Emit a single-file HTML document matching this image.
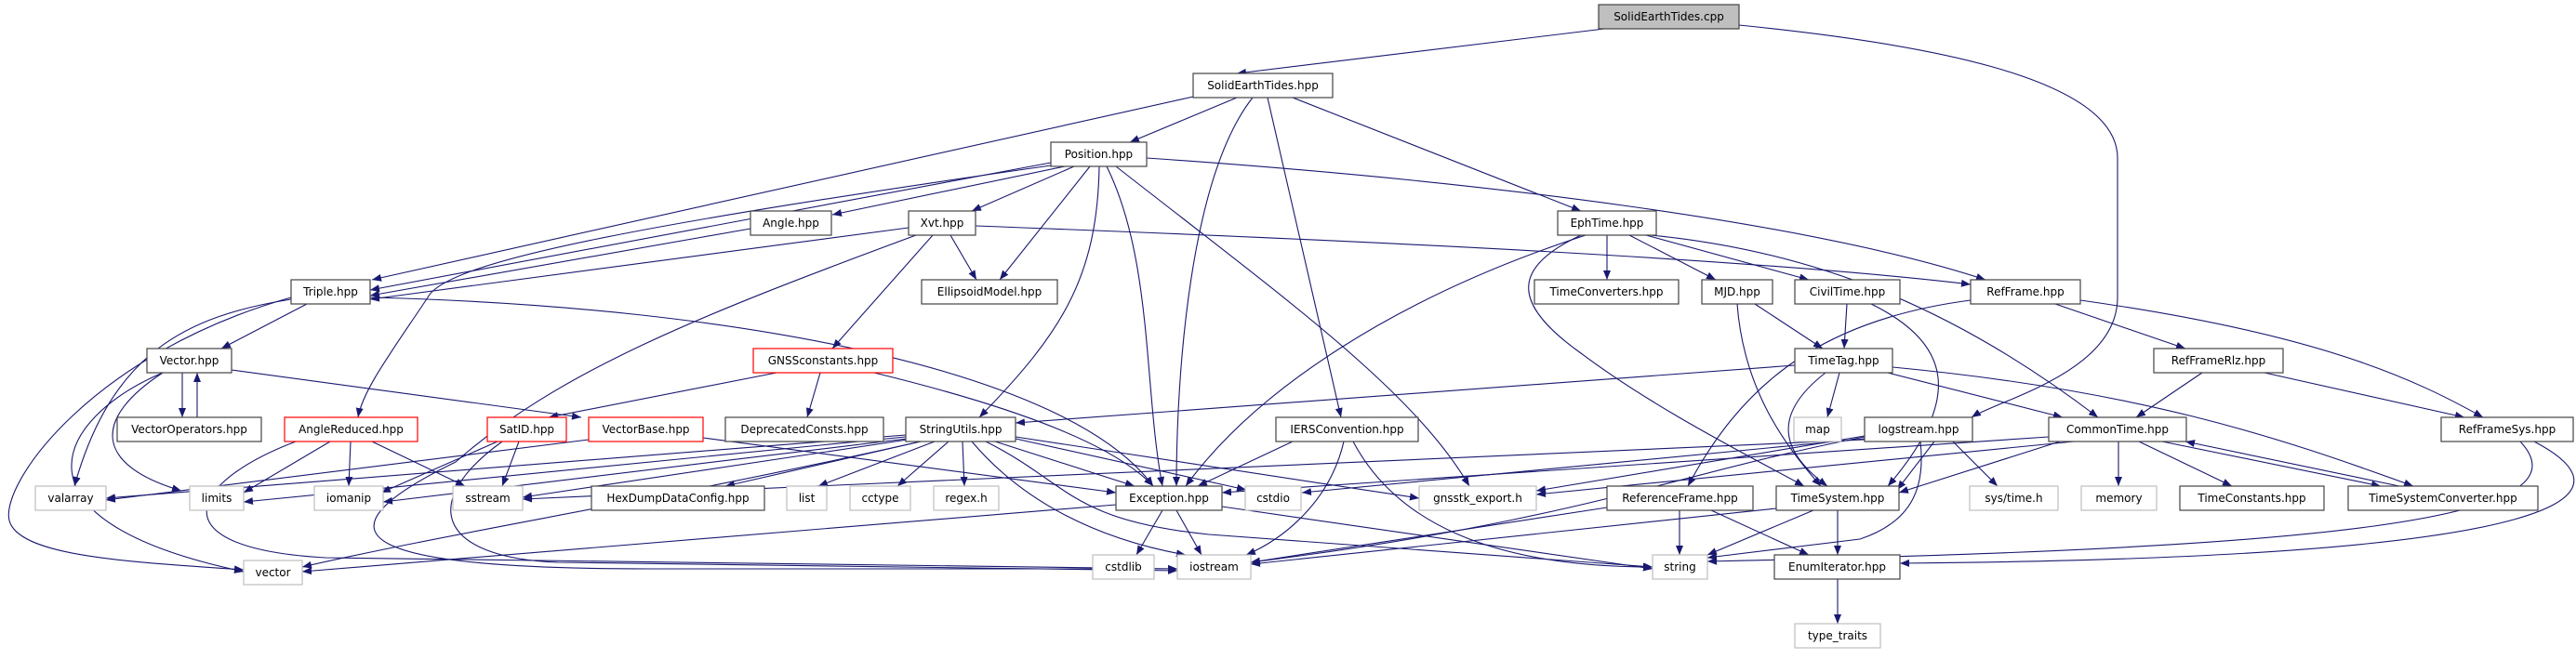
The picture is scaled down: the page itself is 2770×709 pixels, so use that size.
<!DOCTYPE html>
<html><head><meta charset="utf-8"><style>
html,body{margin:0;padding:0;background:#fff;}
svg{display:block;}
text{font-family:"DejaVu Sans","Liberation Sans",sans-serif;font-size:12px;fill:#000;}
.e{fill:none;stroke:#191970;stroke-width:1.1;marker-end:url(#a);}
.n{fill:#fff;stroke:#444;stroke-width:1.2;}
.g{fill:#fff;stroke:#bfbfbf;stroke-width:1.2;}
.r{fill:#fff;stroke:#f00;stroke-width:1.2;}
</style></head><body>
<svg width="2770" height="709" viewBox="0 0 2770 709" xmlns="http://www.w3.org/2000/svg">
<defs><marker id="a" markerUnits="userSpaceOnUse" markerWidth="11" markerHeight="8" refX="10" refY="4" orient="auto"><path d="M0,0 L10,4 L0,8 z" fill="#191970"/></marker></defs>
<g>
<path class="e" d="M1725,31 L1330,79"/>
<path class="e" d="M1870,27 C2050,45 2277,80 2277,170 L2277,320 C2277,400 2150,430 2120,449"/>
<path class="e" d="M1283,104 L400,301"/>
<path class="e" d="M1330,105 L1215,153"/>
<path class="e" d="M1347,105 C1280,190 1265,400 1265,523"/>
<path class="e" d="M1363,105 L1442,449"/>
<path class="e" d="M1390,105 L1700,227"/>
<path class="e" d="M1130,175 L398,312"/>
<path class="e" d="M1145,179 L895,231"/>
<path class="e" d="M1155,179 L1045,227"/>
<path class="e" d="M1172,179 L1075,301"/>
<path class="e" d="M1182,179 C1180,300 1140,360 1053,449"/>
<path class="e" d="M1190,179 C1240,280 1230,420 1250,523"/>
<path class="e" d="M1200,179 C1380,320 1520,420 1580,523"/>
<path class="e" d="M1233,170 C1600,195 1950,240 2135,301"/>
<path class="e" d="M1130,178 C700,240 480,280 460,320 C420,380 390,420 385,449"/>
<path class="e" d="M807,246 L398,318"/>
<path class="e" d="M977,245 L398,322"/>
<path class="e" d="M1022,253 L1050,301"/>
<path class="e" d="M1003,253 L895,375"/>
<path class="e" d="M1049,243 C1500,260 1900,280 2119,306"/>
<path class="e" d="M985,253 C750,340 600,400 490,497 C320,580 400,612 700,612 L1266,612"/>
<path class="e" d="M330,327 L238,375"/>
<path class="e" d="M313,322 C200,340 120,380 80,523"/>
<path class="e" d="M313,320 C100,380 0,520 10,560 C20,600 150,605 262,613"/>
<path class="e" d="M398,320 C800,330 1150,400 1240,523"/>
<path class="e" d="M196,401 L196,449"/>
<path class="e" d="M212,449 L212,401"/>
<path class="e" d="M249,398 L625,449"/>
<path class="e" d="M175,401 C60,450 0,560 262,615"/>
<path class="e" d="M175,401 C100,450 100,500 195,528"/>
<path class="e" d="M355,475 L262,530"/>
<path class="e" d="M377,475 L375,523"/>
<path class="e" d="M400,475 L500,523"/>
<path class="e" d="M318,475 C200,520 170,590 350,600 L1266,612"/>
<path class="e" d="M535,475 L410,530"/>
<path class="e" d="M558,475 L540,523"/>
<path class="e" d="M540,475 C450,540 470,600 600,605 L1266,614"/>
<path class="e" d="M633,473 L114,538"/>
<path class="e" d="M756,471 L1200,530"/>
<path class="e" d="M835,401 L590,449"/>
<path class="e" d="M882,401 L868,449"/>
<path class="e" d="M940,401 C1100,440 1200,480 1240,523"/>
<path class="e" d="M974,468 L114,536"/>
<path class="e" d="M974,470 L262,540"/>
<path class="e" d="M975,472 L412,540"/>
<path class="e" d="M976,473 L562,535"/>
<path class="e" d="M990,475 L780,523"/>
<path class="e" d="M1005,475 L880,523"/>
<path class="e" d="M1020,475 L965,523"/>
<path class="e" d="M1035,475 L1037,523"/>
<path class="e" d="M1070,475 L1220,523"/>
<path class="e" d="M1092,472 L1340,527"/>
<path class="e" d="M1045,475 C1100,540 1180,580 1275,597"/>
<path class="e" d="M1060,475 C1150,520 1150,560 1300,575 L1777,610"/>
<path class="e" d="M990,475 C700,540 500,570 325,610"/>
<path class="e" d="M1092,470 L1526,536"/>
<path class="e" d="M1200,543 L325,615"/>
<path class="e" d="M1250,549 L1222,597"/>
<path class="e" d="M1265,549 L1292,597"/>
<path class="e" d="M1314,545 L1777,612"/>
<path class="e" d="M1390,475 L1288,523"/>
<path class="e" d="M1445,475 C1430,540 1380,580 1340,597"/>
<path class="e" d="M1455,475 C1500,560 1600,610 1777,610"/>
<path class="e" d="M1728,253 L1728,301"/>
<path class="e" d="M1752,253 L1845,301"/>
<path class="e" d="M1770,253 L1945,301"/>
<path class="e" d="M1775,253 C1950,270 2100,330 2256,449"/>
<path class="e" d="M1700,253 C1620,290 1630,330 1700,380 C1780,440 1880,490 1940,523"/>
<path class="e" d="M1705,253 C1500,320 1350,420 1275,523"/>
<path class="e" d="M1887,327 L1960,375"/>
<path class="e" d="M1868,327 C1875,420 1920,480 1958,523"/>
<path class="e" d="M1986,327 L1983,375"/>
<path class="e" d="M2012,327 C2100,370 2110,430 2030,523"/>
<path class="e" d="M1930,393 L1092,455"/>
<path class="e" d="M1978,401 L1965,449"/>
<path class="e" d="M1963,401 C1900,450 1920,490 1965,523"/>
<path class="e" d="M2030,401 L2218,449"/>
<path class="e" d="M2035,395 C2300,420 2450,470 2595,523"/>
<path class="e" d="M2119,323 C1950,345 1870,420 1815,523"/>
<path class="e" d="M2210,327 L2350,375"/>
<path class="e" d="M2237,323 C2500,360 2600,410 2670,449"/>
<path class="e" d="M2368,401 L2297,449"/>
<path class="e" d="M2435,401 L2650,449"/>
<path class="e" d="M2710,475 C2790,560 2500,590 1836,604"/>
<path class="e" d="M2725,475 C2830,530 2790,600 2043,606"/>
<path class="e" d="M2203,470 L1314,530"/>
<path class="e" d="M2230,475 L1652,532"/>
<path class="e" d="M2278,475 L2278,523"/>
<path class="e" d="M2300,475 L2400,523"/>
<path class="e" d="M2325,475 L2560,523"/>
<path class="e" d="M2580,523 L2350,475"/>
<path class="e" d="M2215,475 L2042,530"/>
<path class="e" d="M2100,475 L2148,523"/>
<path class="e" d="M2080,475 L2040,527"/>
<path class="e" d="M2065,475 C2070,520 2060,560 2000,580 L1836,600"/>
<path class="e" d="M2005,470 C1800,510 1700,560 1345,605"/>
<path class="e" d="M2005,469 L1652,528"/>
<path class="e" d="M2005,473 L562,537"/>
<path class="e" d="M2005,472 L1400,530"/>
<path class="e" d="M1806,549 L1806,597"/>
<path class="e" d="M1840,549 L1945,597"/>
<path class="e" d="M1728,546 L1345,605"/>
<path class="e" d="M1950,549 L1836,597"/>
<path class="e" d="M1976,549 L1976,597"/>
<path class="e" d="M1910,547 L1345,607"/>
<path class="e" d="M1976,623 L1976,671"/>
</g>
<g text-anchor="middle">
<rect x="1719" y="5" width="151" height="26" fill="#bfbfbf" stroke="#444" stroke-width="1.2"/><text x="1794.5" y="22">SolidEarthTides.cpp</text>
<rect class="n" x="1283" y="79" width="150" height="26"/><text x="1358" y="96">SolidEarthTides.hpp</text>
<rect class="n" x="1130" y="153" width="103" height="26"/><text x="1181.5" y="170">Position.hpp</text>
<rect class="n" x="807" y="227" width="87" height="26"/><text x="850.5" y="244">Angle.hpp</text>
<rect class="n" x="977" y="227" width="72" height="26"/><text x="1013" y="244">Xvt.hpp</text>
<rect class="n" x="1675" y="227" width="106" height="26"/><text x="1728" y="244">EphTime.hpp</text>
<rect class="n" x="313" y="301" width="85" height="26"/><text x="355.5" y="318">Triple.hpp</text>
<rect class="n" x="991" y="301" width="146" height="26"/><text x="1064" y="318">EllipsoidModel.hpp</text>
<rect class="n" x="1650" y="301" width="155" height="26"/><text x="1727.5" y="318">TimeConverters.hpp</text>
<rect class="n" x="1830" y="301" width="76" height="26"/><text x="1868" y="318">MJD.hpp</text>
<rect class="n" x="1930" y="301" width="113" height="26"/><text x="1986.5" y="318">CivilTime.hpp</text>
<rect class="n" x="2119" y="301" width="118" height="26"/><text x="2178" y="318">RefFrame.hpp</text>
<rect class="n" x="158" y="375" width="91" height="26"/><text x="203.5" y="392">Vector.hpp</text>
<rect class="r" x="810" y="375" width="150" height="26"/><text x="885" y="392">GNSSconstants.hpp</text>
<rect class="n" x="1930" y="375" width="105" height="26"/><text x="1982.5" y="392">TimeTag.hpp</text>
<rect class="n" x="2316" y="375" width="139" height="26"/><text x="2385.5" y="392">RefFrameRlz.hpp</text>
<rect class="n" x="126" y="449" width="155" height="26"/><text x="203.5" y="466">VectorOperators.hpp</text>
<rect class="r" x="306" y="449" width="143" height="26"/><text x="377.5" y="466">AngleReduced.hpp</text>
<rect class="r" x="524" y="449" width="85" height="26"/><text x="566.5" y="466">SatID.hpp</text>
<rect class="r" x="633" y="449" width="123" height="26"/><text x="694.5" y="466">VectorBase.hpp</text>
<rect class="n" x="780" y="449" width="170" height="26"/><text x="865" y="466">DeprecatedConsts.hpp</text>
<rect class="n" x="974" y="449" width="118" height="26"/><text x="1033" y="466">StringUtils.hpp</text>
<rect class="n" x="1372" y="449" width="153" height="26"/><text x="1448.5" y="466">IERSConvention.hpp</text>
<rect class="g" x="1929" y="449" width="51" height="26"/><text x="1954.5" y="466">map</text>
<rect class="n" x="2005" y="449" width="116" height="26"/><text x="2063" y="466">logstream.hpp</text>
<rect class="n" x="2203" y="449" width="148" height="26"/><text x="2277" y="466">CommonTime.hpp</text>
<rect class="n" x="2625" y="449" width="142" height="26"/><text x="2696" y="466">RefFrameSys.hpp</text>
<rect class="g" x="38" y="523" width="76" height="26"/><text x="76" y="540">valarray</text>
<rect class="g" x="204" y="523" width="58" height="26"/><text x="233" y="540">limits</text>
<rect class="g" x="338" y="523" width="74" height="26"/><text x="375" y="540">iomanip</text>
<rect class="g" x="487" y="523" width="75" height="26"/><text x="524.5" y="540">sstream</text>
<rect class="n" x="636" y="523" width="186" height="26"/><text x="729" y="540">HexDumpDataConfig.hpp</text>
<rect class="g" x="846" y="523" width="43" height="26"/><text x="867.5" y="540">list</text>
<rect class="g" x="914" y="523" width="65" height="26"/><text x="946.5" y="540">cctype</text>
<rect class="g" x="1004" y="523" width="70" height="26"/><text x="1039" y="540">regex.h</text>
<rect class="n" x="1200" y="523" width="114" height="26"/><text x="1257" y="540">Exception.hpp</text>
<rect class="g" x="1339" y="523" width="60" height="26"/><text x="1369" y="540">cstdio</text>
<rect class="g" x="1526" y="523" width="126" height="26"/><text x="1589" y="540">gnsstk_export.h</text>
<rect class="n" x="1728" y="523" width="157" height="26"/><text x="1806.5" y="540">ReferenceFrame.hpp</text>
<rect class="n" x="1910" y="523" width="132" height="26"/><text x="1976" y="540">TimeSystem.hpp</text>
<rect class="g" x="2118" y="523" width="95" height="26"/><text x="2165.5" y="540">sys/time.h</text>
<rect class="g" x="2238" y="523" width="81" height="26"/><text x="2278.5" y="540">memory</text>
<rect class="n" x="2344" y="523" width="155" height="26"/><text x="2421.5" y="540">TimeConstants.hpp</text>
<rect class="n" x="2525" y="523" width="204" height="26"/><text x="2627" y="540">TimeSystemConverter.hpp</text>
<rect class="g" x="262" y="603" width="63" height="26"/><text x="293.5" y="620">vector</text>
<rect class="g" x="1175" y="597" width="66" height="26"/><text x="1208" y="614">cstdlib</text>
<rect class="g" x="1266" y="597" width="79" height="26"/><text x="1305.5" y="614">iostream</text>
<rect class="g" x="1777" y="597" width="59" height="26"/><text x="1806.5" y="614">string</text>
<rect class="n" x="1908" y="597" width="135" height="26"/><text x="1975.5" y="614">EnumIterator.hpp</text>
<rect class="g" x="1930" y="671" width="92" height="26"/><text x="1976" y="688">type_traits</text>
</g>
</svg>
</body></html>
